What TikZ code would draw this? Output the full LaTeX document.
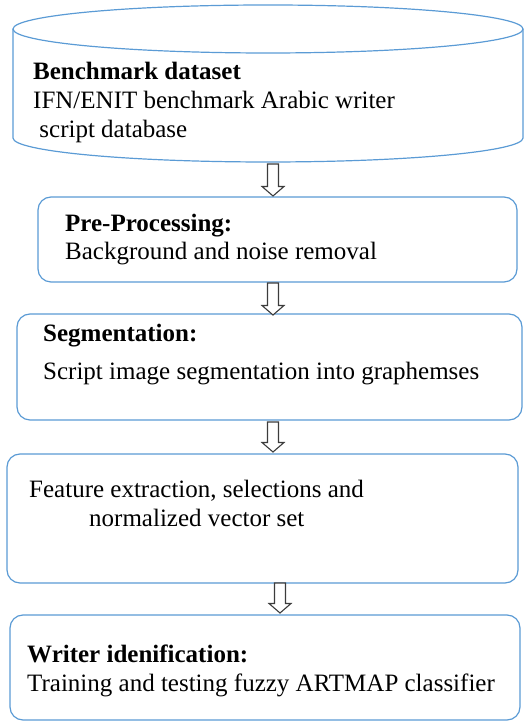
\documentclass[tikz,border=0pt]{standalone}
\usepackage{fontspec}
\setmainfont{Liberation Serif}
\usetikzlibrary{calc}
\definecolor{boxblue}{RGB}{91,155,213}
\definecolor{arrgray}{RGB}{60,60,60}
\tikzset{
  box/.style={draw=boxblue, line width=1.2pt, rounded corners=13pt, fill=white, inner sep=0pt},
  cylline/.style={draw=boxblue, line width=1.2pt},
  txt/.style={anchor=base west, inner sep=0pt, font=\fontsize{25}{30}\selectfont},
  btxt/.style={txt, font=\fontsize{25}{30}\selectfont\bfseries},
  arrowline/.style={draw=arrgray, line width=1.1pt, fill=white, line join=miter}
}
\newcommand{\hollowarrow}[2]{%
  \draw[arrowline] ($(#1)+(-5.5,0)$) -- ($(#2)+(-5.5,9.5)$) -- ($(#2)+(-11,9.5)$) -- (#2)
    -- ($(#2)+(11,9.5)$) -- ($(#2)+(5.5,9.5)$) -- ($(#1)+(5.5,0)$) -- cycle;}
\begin{document}
\begin{tikzpicture}[x=1pt,y=1pt]
\useasboundingbox (0,0) rectangle (524,722);
% cylinder
\draw[cylline] (13,693) -- (13,584) arc (180:360:255 and 24) -- (523,693);
\draw[cylline] (268,693) ellipse (255 and 24);
\node[btxt] (t1a) at (33,642) {Benchmark dataset};
\node[txt] (t1b) at (33,613) {IFN/ENIT benchmark Arabic writer};
\node[txt] (t1c) at (33,584) {\ script database};
% boxes
\node[box, minimum width=479pt, minimum height=85pt] (b2) at (277.5,482.5) {};
\node[btxt] (t2a) at (65,490) {Pre-Processing:};
\node[txt] (t2b) at (65,462) {Background and noise removal};
\node[box, minimum width=505pt, minimum height=106pt] (b3) at (269.5,355) {};
\node[btxt] (t3a) at (43,380) {Segmentation:};
\node[txt] (t3b) at (43,342) {Script image segmentation into graphemses};
\node[box, minimum width=511pt, minimum height=129pt] (b4) at (262.5,203.5) {};
\node[txt] (t4a) at (29,224) {Feature extraction, selections and};
\node[txt] (t4b) at (89,195) {normalized vector set};
\node[box, minimum width=510pt, minimum height=105pt] (b5) at (265,54.5) {};
\node[btxt] (t5a) at (27,59) {Writer idenification:};
\node[txt] (t5b) at (27,30) {Training and testing fuzzy ARTMAP classifier};
% arrows
\coordinate (a1s) at (273,558); \coordinate (a1e) at (273,526);
\coordinate (a2s) at (273,439); \coordinate (a2e) at (273,407);
\coordinate (a3s) at (273,300); \coordinate (a3e) at (273,270);
\coordinate (a4s) at (280,139); \coordinate (a4e) at (280,109);
\hollowarrow{a1s}{a1e}
\hollowarrow{a2s}{a2e}
\hollowarrow{a3s}{a3e}
\hollowarrow{a4s}{a4e}
\end{tikzpicture}
\end{document}
